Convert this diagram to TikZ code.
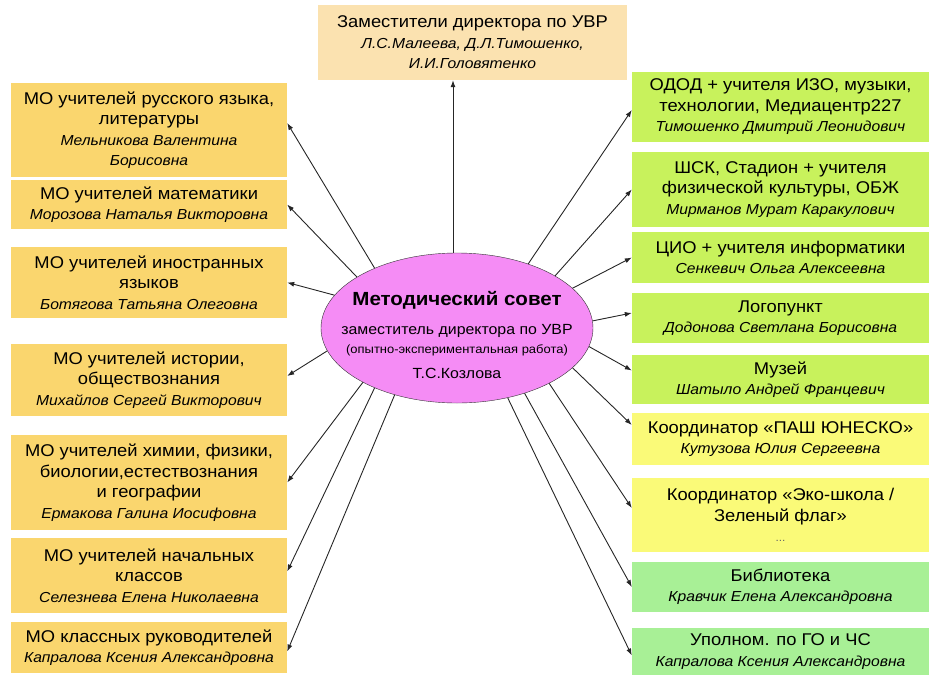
\documentclass[tikz,border=0pt]{standalone}
\usepackage{fontspec}
\setmainfont{Liberation Sans}[FakeStretch=1.08]
\usetikzlibrary{shapes.geometric,arrows.meta}

\definecolor{peach}{RGB}{251,226,176}
\definecolor{gold}{RGB}{250,214,110}
\definecolor{lime}{RGB}{200,242,92}
\definecolor{lemon}{RGB}{250,250,120}
\definecolor{mint}{RGB}{168,240,150}
\definecolor{violet}{RGB}{245,140,245}

\newcommand{\fio}[1]{{\itshape\fontsize{14.5}{17}\selectfont #1}}

\tikzset{
    box/.style={align=center, inner sep=2pt, font=\fontsize{17}{20.5}\selectfont},
    lbox/.style={box, fill=gold, minimum width=276},
    rbox/.style={box, minimum width=297},
    arr/.style={-{Latex[length=7pt,width=5pt]}, draw=black!85, line width=0.9pt},
}

\begin{document}
\begin{tikzpicture}[x=1pt, y=-1pt]
            \useasboundingbox (0,0) rectangle (929,675);

            \node[draw=black!80, fill=violet, shape=ellipse, minimum width=272, minimum height=150, inner sep=-35pt, align=center, font=\fontsize{14.7}{19}\selectfont] (MS) at (457,328)
                {\rule{0pt}{28pt}{\bfseries\fontsize{19}{22}\selectfont Методический совет}\\[10pt]
                 заместитель директора по УВР\\
                 {\fontsize{12}{15}\selectfont (опытно-экспериментальная работа)}\\[6pt]
                 Т.С.Козлова};

            \node[box, fill=peach, minimum width=309, minimum height=75] (ZD) at (472.5,42.5)
                {Заместители директора по УВР\\ \fio{Л.С.Малеева, Д.Л.Тимошенко,}\\ \fio{И.И.Головятенко}};

            \node[lbox, minimum height=94] (LA) at (149,130) {МО учителей русского языка,\\ литературы\\ \fio{Мельникова Валентина}\\ \fio{Борисовна}};
            \node[lbox, minimum height=49] (LB) at (149,204.5) {МО учителей математики\\ \fio{Морозова Наталья Викторовна}};
            \node[lbox, minimum height=71] (LC) at (149,282.5) {МО учителей иностранных\\ языков\\ \fio{Ботягова Татьяна Олеговна}};
            \node[lbox, minimum height=72] (LD) at (149,380) {МО учителей истории,\\ обществознания\\ \fio{Михайлов Сергей Викторович}};
            \node[lbox, minimum height=95] (LE) at (149,482.5) {МО учителей химии, физики,\\ биологии,естествознания\\ и географии\\ \fio{Ермакова Галина Иосифовна}};
            \node[lbox, minimum height=75] (LF) at (149,575.5) {МО учителей начальных\\ классов\\ \fio{Селезнева Елена Николаевна}};
            \node[lbox, minimum height=51] (LG) at (149,647.5) {МО классных руководителей\\ \fio{Капралова Ксения Александровна}};

            \node[rbox, fill=lime, minimum height=70] (RA) at (780.5,107) {ОДОД + учителя ИЗО, музыки,\\ технологии, Медиацентр227\\ \fio{Тимошенко Дмитрий Леонидович}};
            \node[rbox, fill=lime, minimum height=75] (RB) at (780.5,189.5) {ШСК, Стадион + учителя\\ физической культуры, ОБЖ\\ \fio{Мирманов Мурат Каракулович}};
            \node[rbox, fill=lime, minimum height=51] (RC) at (780.5,257.5) {ЦИО + учителя информатики\\ \fio{Сенкевич Ольга Алексеевна}};
            \node[rbox, fill=lime, minimum height=50] (RD) at (780.5,318) {Логопункт\\ \fio{Додонова Светлана Борисовна}};
            \node[rbox, fill=lime, minimum height=49] (RE) at (780.5,379.5) {Музей\\ \fio{Шатыло Андрей Францевич}};
            \node[rbox, fill=lemon, minimum height=52] (RF) at (780.5,439) {Координатор «ПАШ ЮНЕСКО»\\ \fio{Кутузова Юлия Сергеевна}};
            \node[rbox, fill=lemon, minimum height=74] (RG) at (780.5,515) {Координатор «Эко-школа /\\ Зеленый флаг»\\ {\fontsize{11}{13}\selectfont\color{black!60}...}};
            \node[rbox, fill=mint, minimum height=50] (RH) at (780.5,587) {Библиотека\\ \fio{Кравчик Елена Александровна}};
            \node[rbox, fill=mint, minimum height=47] (RI) at (780.5,651.5) {Уполном. по ГО и ЧС\\ \fio{Капралова Ксения Александровна}};

            \draw[arr] ([xshift=-4pt]MS.north) -- ([xshift=-4pt]MS.north |- ZD.south);

            \draw[arr] (MS.144) -- ([yshift=7pt]LA.east);
            \draw[arr] (MS.153) -- (LB.east);
            \draw[arr] (MS.165) -- (LC.east);
            \draw[arr] (MS.190) -- ([yshift=4pt]LD.east);
            \draw[arr] (MS.210) -- (LE.east);
            \draw[arr] (MS.216) -- ([yshift=4pt]LF.east);
            \draw[arr] (MS.227) -- ([yshift=-4pt]LG.east);

            \draw[arr] (MS.42) -- ([yshift=-3pt]RA.west);
            \draw[arr] (MS.28) -- (RB.west);
            \draw[arr] (MS.19) -- (RC.west);
            \draw[arr] (MS.3) -- ([yshift=5pt]RD.west);
            \draw[arr] (MS.-8) -- ([yshift=9pt]RE.west);
            \draw[arr] (MS.-19) -- ([yshift=14pt]RF.west);
            \draw[arr] (MS.-31) -- ([yshift=7pt]RG.west);
            \draw[arr] (MS.-44) -- (RH.west);
            \draw[arr] (MS.-54) -- ([yshift=-4pt]RI.west);
\end{tikzpicture}
\end{document}
